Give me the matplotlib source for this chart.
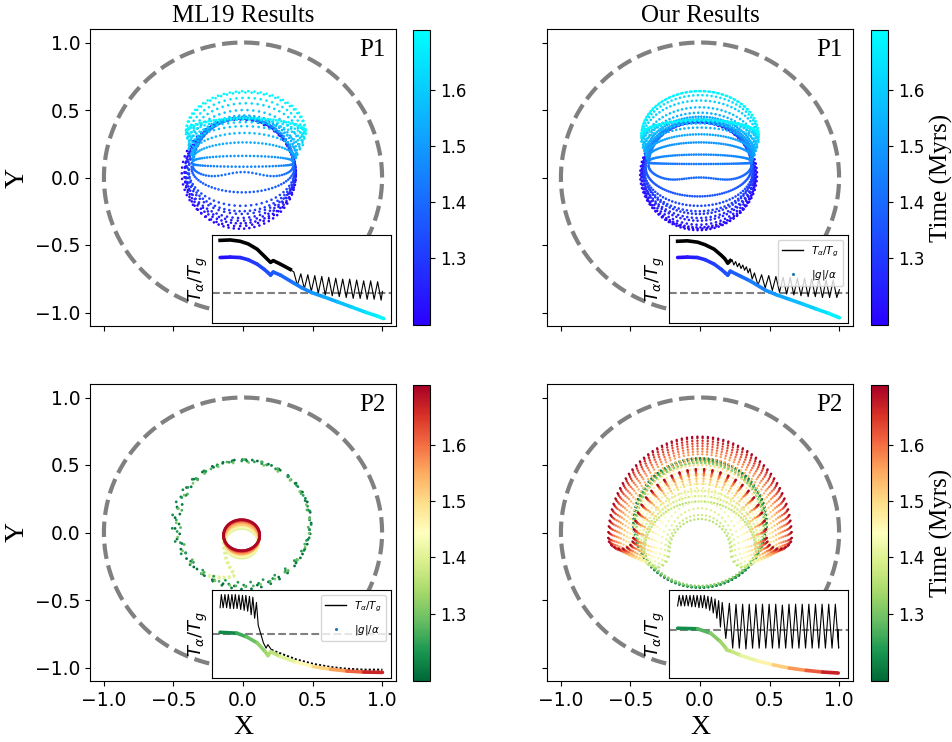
#!/usr/bin/env python3
import numpy as np
import matplotlib
matplotlib.use("Agg")
import matplotlib.pyplot as plt
from matplotlib.colors import LinearSegmentedColormap, Normalize
from matplotlib.cm import ScalarMappable
from matplotlib.collections import LineCollection
from matplotlib.lines import Line2D

SERIF = ["Liberation Serif", "DejaVu Serif"]

# --- colour scale (time, Myrs) ---
time_lo, time_hi = 1.18, 1.707
cbar_ticks = [1.3, 1.4, 1.5, 1.6]
axis_ticks = [-1.0, -0.5, 0.0, 0.5, 1.0]

# --- P1, ML19: ring snapshots (time, centre, x radius, upper / lower half height, wobble) ---
p1_ml_t = [1.19, 1.20, 1.22, 1.24, 1.26, 1.28, 1.30, 1.33, 1.37, 1.41, 1.45, 1.49, 1.53, 1.56, 1.59, 1.62, 1.65, 1.68, 1.70]
p1_ml_cx = [-0.02, -0.03, -0.02, -0.02, -0.02, -0.01, -0.01, -0.01, 0.0, 0.0, 0.0, 0.0, 0.01, 0.01, 0.01, 0.02, 0.02, 0.02, 0.02]
p1_ml_yc = [0.02, 0.03, 0.03, 0.03, 0.03, 0.04, 0.04, 0.05, 0.07, 0.08, 0.10, 0.12, 0.14, 0.16, 0.20, 0.24, 0.28, 0.32, 0.34]
p1_ml_rx = [0.40, 0.41, 0.40, 0.39, 0.39, 0.39, 0.38, 0.38, 0.37, 0.36, 0.36, 0.36, 0.37, 0.38, 0.40, 0.41, 0.42, 0.43, 0.43]
p1_ml_up = [0.42, 0.40, 0.41, 0.41, 0.41, 0.40, 0.40, 0.39, 0.37, 0.36, 0.34, 0.32, 0.31, 0.30, 0.30, 0.31, 0.31, 0.31, 0.30]
p1_ml_lo = [0.40, 0.39, 0.37, 0.35, 0.33, 0.31, 0.29, 0.26, 0.18, 0.10, 0.02, -0.04, -0.12, -0.17, -0.18, -0.17, -0.15, -0.12, -0.10]
p1_ml_wave = [0, 0, 0, 0, 0, 0, 0, 0, 0, 0.06, 0, 0, 0, 0, 0, 0, 0, 0, 0]
p1_ml_npts = [67, 59, 71, 53, 61, 57, 64, 60, 80, 80, 80, 80, 80, 66, 60, 60, 60, 60, 60]

# --- P1, our results ---
p1_our_t = [1.19, 1.20, 1.21, 1.23, 1.25, 1.27, 1.29, 1.31, 1.33, 1.36, 1.40, 1.43, 1.46, 1.49, 1.52, 1.55, 1.58, 1.61, 1.64, 1.67, 1.70]
p1_our_cx = [-0.01, -0.01, -0.01, -0.01, -0.01, -0.01, -0.01, -0.01, -0.01, -0.01, 0.0, 0.0, 0.0, 0.0, 0.0, 0.0, 0.0, 0.0, 0.0, 0.0, 0.0]
p1_our_yc = [0.02, 0.02, 0.02, 0.02, 0.03, 0.03, 0.04, 0.04, 0.05, 0.07, 0.09, 0.11, 0.12, 0.14, 0.16, 0.19, 0.22, 0.26, 0.29, 0.31, 0.32]
p1_our_rx = [0.41, 0.42, 0.41, 0.40, 0.40, 0.40, 0.39, 0.39, 0.39, 0.38, 0.37, 0.37, 0.37, 0.38, 0.39, 0.40, 0.41, 0.42, 0.42, 0.42, 0.42]
p1_our_up = [0.39, 0.40, 0.39, 0.39, 0.39, 0.39, 0.38, 0.38, 0.37, 0.35, 0.33, 0.31, 0.30, 0.29, 0.29, 0.29, 0.30, 0.31, 0.32, 0.33, 0.32]
p1_our_lo = [0.41, 0.40, 0.39, 0.37, 0.35, 0.33, 0.31, 0.29, 0.26, 0.21, 0.14, 0.01, -0.05, -0.12, -0.16, -0.18, -0.18, -0.16, -0.14, -0.12, -0.10]
p1_our_wave = [0, 0, 0, 0, 0, 0, 0, 0, 0, 0, 0.05, 0, 0, 0, 0, 0, 0, 0, 0, 0, 0]
p1_our_npts = [83, 77, 89, 71, 80, 74, 86, 79, 90, 130, 130, 130, 130, 130, 120, 80, 80, 80, 80, 80, 80]

# --- P2, ML19: wide early ring, tail, small late ring ---
p2_ml_ring_t = [1.19, 1.20, 1.22, 1.24, 1.27, 1.30]
p2_ml_ring_cx = [0.0, 0.01, -0.01, 0.0, 0.01, 0.0]
p2_ml_ring_cy = [0.07, 0.06, 0.07, 0.08, 0.07, 0.06]
p2_ml_ring_rx = [0.49, 0.47, 0.50, 0.48, 0.46, 0.48]
p2_ml_ring_ry = [0.47, 0.48, 0.46, 0.45, 0.47, 0.46]
p2_ml_ring_npts = [37, 41, 29, 33, 23, 27]
p2_ml_tail_t = 1.40
p2_ml_tail_x = [-0.14, -0.135, -0.12, -0.09, -0.06, -0.07, -0.12, -0.17, -0.25]
p2_ml_tail_y = [-0.03, -0.12, -0.20, -0.27, -0.31, -0.325, -0.335, -0.333, -0.32]
p2_ml_small_t = [1.40, 1.43, 1.46, 1.49, 1.52, 1.56, 1.60, 1.64, 1.67, 1.70]
p2_ml_small_cy = [-0.08, -0.07, -0.06, -0.055, -0.05, -0.04, -0.03, -0.025, -0.02, -0.02]
p2_ml_small_rx = [0.12, 0.12, 0.12, 0.12, 0.125, 0.125, 0.13, 0.13, 0.13, 0.13]
p2_ml_small_ry = [0.11, 0.11, 0.11, 0.11, 0.11, 0.115, 0.115, 0.115, 0.115, 0.115]

# --- P2, our results: early ring, then arches (outer / inner half widths and tops) ---
p2_our_ring_t = [1.19, 1.21, 1.23, 1.26, 1.29, 1.32]
p2_our_ring_cy = [0.07, 0.07, 0.065, 0.065, 0.06, 0.06]
p2_our_ring_r = [0.48, 0.475, 0.47, 0.47, 0.46, 0.455]
p2_our_arch_t = [1.36, 1.38, 1.40, 1.42, 1.44, 1.46, 1.48, 1.50, 1.52, 1.54, 1.56, 1.58, 1.60, 1.62, 1.64, 1.66, 1.68, 1.70]
p2_our_wo = [0.40, 0.41, 0.43, 0.45, 0.47, 0.49, 0.51, 0.53, 0.55, 0.57, 0.585, 0.60, 0.615, 0.63, 0.64, 0.65, 0.655, 0.66]
p2_our_ho = [0.23, 0.27, 0.31, 0.36, 0.40, 0.43, 0.47, 0.50, 0.53, 0.55, 0.58, 0.60, 0.62, 0.64, 0.66, 0.68, 0.70, 0.71]
p2_our_wi = [0.22, 0.23, 0.25, 0.28, 0.31, 0.33, 0.35, 0.37, 0.39, 0.41, 0.425, 0.44, 0.45, 0.46, 0.465, 0.47, 0.475, 0.48]
p2_our_hi = [0.10, 0.13, 0.18, 0.23, 0.27, 0.30, 0.33, 0.36, 0.38, 0.40, 0.42, 0.43, 0.44, 0.45, 0.455, 0.46, 0.465, 0.47]
p2_our_yb = [-0.14, -0.135, -0.13, -0.12, -0.115, -0.11, -0.105, -0.10, -0.09, -0.08, -0.075, -0.07, -0.065, -0.06, -0.055, -0.05, -0.045, -0.04]
p2_our_yf = [-0.26, -0.255, -0.245, -0.23, -0.22, -0.21, -0.20, -0.19, -0.18, -0.17, -0.16, -0.15, -0.145, -0.14, -0.135, -0.13, -0.125, -0.12]

# --- insets (axes fraction units): |g|/alpha curve, T_alpha/T_g line, dashed level ---
tl_g_x = [0.043, 0.10, 0.155, 0.20, 0.25, 0.29, 0.315, 0.325, 0.34, 0.38, 0.45, 0.50, 0.556, 0.62, 0.70, 0.78, 0.86, 0.92, 0.957]
tl_g_y = [0.745, 0.75, 0.745, 0.72, 0.67, 0.61, 0.565, 0.545, 0.58, 0.545, 0.46, 0.40, 0.345, 0.30, 0.24, 0.18, 0.12, 0.08, 0.05]
tl_band_x = [0.043, 0.10, 0.155, 0.20, 0.25, 0.29, 0.315, 0.325, 0.34, 0.38, 0.435]
tl_band_y = [0.94, 0.945, 0.93, 0.90, 0.84, 0.76, 0.71, 0.69, 0.71, 0.67, 0.61]
tl_peak_x = [0.455, 0.494, 0.533, 0.572, 0.611, 0.650, 0.689, 0.728, 0.767, 0.806, 0.845, 0.884, 0.923]
tl_peak_y = [0.58, 0.56, 0.55, 0.54, 0.53, 0.52, 0.51, 0.50, 0.50, 0.49, 0.48, 0.48, 0.47]
tl_trough_y = [0.43, 0.39, 0.36, 0.34, 0.32, 0.31, 0.30, 0.29, 0.28, 0.28, 0.27, 0.27, 0.26]
tl_end = (0.95, 0.36)
tl_level = 0.345

tr_g_x = [0.046, 0.10, 0.157, 0.20, 0.25, 0.29, 0.315, 0.326, 0.34, 0.40, 0.45, 0.54, 0.60, 0.67, 0.74, 0.82, 0.89, 0.95]
tr_g_y = [0.745, 0.75, 0.745, 0.72, 0.67, 0.61, 0.565, 0.545, 0.59, 0.53, 0.48, 0.37, 0.32, 0.27, 0.22, 0.16, 0.11, 0.06]
tr_band_x = [0.046, 0.10, 0.157, 0.20, 0.25, 0.29, 0.31, 0.326, 0.34]
tr_band_y = [0.93, 0.935, 0.92, 0.89, 0.84, 0.77, 0.73, 0.68, 0.71]
tr_peak_x = [0.35, 0.37, 0.39, 0.41, 0.43, 0.45, 0.475, 0.515, 0.555, 0.595, 0.635, 0.675, 0.715, 0.755, 0.795, 0.835, 0.875, 0.915]
tr_peak_y = [0.72, 0.70, 0.68, 0.66, 0.64, 0.62, 0.57, 0.55, 0.54, 0.53, 0.52, 0.52, 0.51, 0.51, 0.50, 0.50, 0.49, 0.49]
tr_trough_y = [0.66, 0.64, 0.62, 0.60, 0.57, 0.50, 0.43, 0.40, 0.37, 0.35, 0.33, 0.32, 0.31, 0.30, 0.30, 0.29, 0.29, 0.29]
tr_end = (0.95, 0.38)
tr_level = 0.34

bl_g_x = [0.043, 0.136, 0.19, 0.25, 0.295, 0.31, 0.326, 0.38, 0.47, 0.565, 0.66, 0.75, 0.845, 0.95]
bl_g_y = [0.52, 0.51, 0.47, 0.40, 0.30, 0.256, 0.30, 0.245, 0.18, 0.13, 0.10, 0.08, 0.068, 0.064]
bl_start = (0.043, 0.80)
bl_peak_x = [0.050, 0.070, 0.089, 0.109, 0.128, 0.148, 0.168, 0.187, 0.207, 0.226, 0.246]
bl_peak_y = [0.95, 0.95, 0.95, 0.95, 0.95, 0.945, 0.94, 0.94, 0.93, 0.92, 0.86]
bl_trough_y = [0.80, 0.80, 0.79, 0.79, 0.79, 0.78, 0.77, 0.76, 0.72, 0.68, 0.60]
bl_drop_x = [0.285, 0.30, 0.31, 0.33]
bl_drop_y = [0.40, 0.34, 0.38, 0.32]
bl_tail_x = [0.33, 0.38, 0.47, 0.565, 0.66, 0.75, 0.845, 0.95]
bl_tail_y = [0.32, 0.28, 0.21, 0.16, 0.125, 0.105, 0.095, 0.095]
bl_level = 0.50

br_g_x = [0.046, 0.157, 0.23, 0.285, 0.313, 0.32, 0.35, 0.40, 0.49, 0.58, 0.67, 0.764, 0.856, 0.943]
br_g_y = [0.566, 0.56, 0.51, 0.415, 0.347, 0.32, 0.30, 0.256, 0.196, 0.15, 0.113, 0.087, 0.068, 0.057]
br_start = (0.046, 0.82)
br_peak_x = [0.055, 0.075, 0.095, 0.115, 0.135, 0.155, 0.175, 0.195, 0.215, 0.235, 0.255, 0.275, 0.295,
             0.335, 0.372, 0.409, 0.446, 0.483, 0.520, 0.557, 0.594, 0.631, 0.668, 0.705, 0.742, 0.779, 0.816, 0.853, 0.890, 0.927]
br_peak_y = [0.94, 0.94, 0.94, 0.94, 0.94, 0.94, 0.94, 0.94, 0.93, 0.92, 0.90, 0.88, 0.86,
             0.85, 0.84, 0.84, 0.84, 0.84, 0.84, 0.84, 0.84, 0.83, 0.84, 0.84, 0.84, 0.84, 0.84, 0.84, 0.84, 0.84]
br_trough_y = [0.82, 0.82, 0.82, 0.81, 0.81, 0.80, 0.80, 0.79, 0.77, 0.74, 0.68, 0.58, 0.45,
               0.34, 0.34, 0.33, 0.34, 0.34, 0.34, 0.34, 0.34, 0.34, 0.34, 0.34, 0.34, 0.34, 0.34, 0.34, 0.34, 0.34]
br_end = (0.943, 0.55)
br_level = 0.547


# --- helpers ---
def loop_points(cx, yc, rx, up, lo, wave, n, phase):
    th = np.linspace(0, 2 * np.pi, n, endpoint=False) + phase
    s, c = np.sin(th), np.cos(th)
    y = np.where(s >= 0, yc + up * s, yc + lo * s + wave * np.abs(s) ** 8)
    return cx + rx * c, y


def arch_points(wo, ho, wi, hi, yb, yf, n_out=56, n_in=26):
    to = np.linspace(0, np.pi, n_out)
    ti = np.linspace(0, np.pi, n_in)
    xs = [wo * np.cos(to), wi * np.cos(ti)]
    ys = [yb + (ho - yb) * np.sin(to), yb + (hi - yb) * np.sin(ti)]
    ph = np.linspace(np.pi, 2 * np.pi, 10)[1:-1]
    for sign in (-1, 1):
        xm, hw = sign * (wo + wi) / 2, (wo - wi) / 2
        xs.append(xm + hw * np.cos(ph))
        ys.append(yb + (yb - yf) * np.sin(ph))
    return np.concatenate(xs), np.concatenate(ys)


def zigzag(start, peak_x, peak_y, trough_y, end=None):
    px = np.asarray(peak_x, float)
    step = np.diff(px, append=px[-1] + (px[-1] - px[-2]))
    x = np.empty(2 * len(px))
    y = np.empty(2 * len(px))
    x[0::2], x[1::2] = px, px + step / 2
    y[0::2], y[1::2] = peak_y, trough_y
    x = np.concatenate([[start[0]], x] + ([[end[0]]] if end else []))
    y = np.concatenate([[start[1]], y] + ([[end[1]]] if end else []))
    return x, y


def scatter_frames(ax, xs, ys, ts, cmap, norm, size=3.5):
    x, y, t = np.concatenate(xs), np.concatenate(ys), np.concatenate(ts)
    order = np.argsort(t, kind="stable")
    ax.scatter(x[order], y[order], c=t[order], cmap=cmap, norm=norm, s=size, linewidths=0, zorder=2)


def setup_main(ax, label_x, label_y, tag):
    th = np.linspace(0, 2 * np.pi, 400)
    ax.plot(np.cos(th), np.sin(th), linestyle="--", color="grey", lw=3, zorder=1)
    ax.set_xlim(-1.1, 1.1)
    ax.set_ylim(-1.1, 1.1)
    ax.set_xticks(axis_ticks)
    ax.set_yticks(axis_ticks)
    ax.tick_params(labelsize=13.5, labelbottom=label_x, labelleft=label_y)
    if label_x:
        ax.set_xlabel("X", family=SERIF, fontsize=20)
    if label_y:
        ax.set_ylabel("Y", family=SERIF, fontsize=20)
    ax.text(0.965, 0.965, tag, transform=ax.transAxes, ha="right", va="top", family=SERIF, fontsize=18)


def draw_inset(ax, cmap, g_x, g_y, level, black_parts, legend=False):
    ins = ax.inset_axes([0.40, 0.01, 0.585, 0.296])
    ins.set_xlim(0, 1)
    ins.set_ylim(0, 1)
    ins.tick_params(left=False, bottom=False, labelleft=False, labelbottom=False)
    ins.axhline(level, color="grey", ls="--", lw=1.5, zorder=1)
    for bx, by, lw, ls in black_parts:
        ins.plot(bx, by, color="k", lw=lw, ls=ls, zorder=2)
    pts = np.column_stack([g_x, g_y])
    segs = np.stack([pts[:-1], pts[1:]], axis=1)
    mids = (np.asarray(g_x[:-1]) + np.asarray(g_x[1:])) / 2
    inset_norm = Normalize(0.025, 0.969)
    lc = LineCollection(segs, colors=cmap(inset_norm(mids)), linewidths=2.6, capstyle="round", zorder=3)
    ins.add_collection(lc)
    ins.set_ylabel(r"$T_\alpha/T_g$", fontsize=13, labelpad=2)
    if legend:
        handles = [Line2D([], [], color="k", lw=1),
                   Line2D([], [], color="C0", marker=".", ls="", markersize=2.5)]
        ins.legend(handles, [r"$T_\alpha/T_g$", r"$|g|/\alpha$"], loc="upper right",
                   fontsize=7.5, labelspacing=0.9, framealpha=0.8)
    return ins


# --- figure ---
fig = plt.figure(figsize=(9.53, 7.42), dpi=100)
norm = Normalize(time_lo, time_hi)
cmap_blue = LinearSegmentedColormap.from_list("blue_cyan", ["#2a00ff", "#00ffff"])
cmap_rg = plt.get_cmap("RdYlGn_r")

W, H = 953, 742
def px_axes(x0, y0, x1, y1):
    return fig.add_axes([x0 / W, 1 - y1 / H, (x1 - x0) / W, (y1 - y0) / H])

ax_tl = px_axes(90, 29, 396, 326)
ax_tr = px_axes(547, 29, 853, 326)
ax_bl = px_axes(90, 384, 396, 681)
ax_br = px_axes(547, 384, 853, 681)
cax_tl = px_axes(413, 30, 430, 325)
cax_tr = px_axes(871, 30, 888, 325)
cax_bl = px_axes(413, 385, 430, 681)
cax_br = px_axes(871, 385, 888, 681)

setup_main(ax_tl, False, True, "P1")
setup_main(ax_tr, False, False, "P1")
setup_main(ax_bl, True, True, "P2")
setup_main(ax_br, True, False, "P2")
ax_tl.set_title("ML19 Results", family=SERIF, fontsize=18, pad=5)
ax_tr.set_title("Our Results", family=SERIF, fontsize=18, pad=5)

# P1 ML19
xs, ys, ts = [], [], []
for k, t in enumerate(p1_ml_t):
    x, y = loop_points(p1_ml_cx[k], p1_ml_yc[k], p1_ml_rx[k], p1_ml_up[k], p1_ml_lo[k],
                       p1_ml_wave[k], p1_ml_npts[k], 0.37 * k)
    xs.append(x); ys.append(y); ts.append(np.full(len(x), t))
scatter_frames(ax_tl, xs, ys, ts, cmap_blue, norm)

# P1 ours
xs, ys, ts = [], [], []
for k, t in enumerate(p1_our_t):
    x, y = loop_points(p1_our_cx[k], p1_our_yc[k], p1_our_rx[k], p1_our_up[k], p1_our_lo[k],
                       p1_our_wave[k], p1_our_npts[k], 0.29 * k)
    xs.append(x); ys.append(y); ts.append(np.full(len(x), t))
scatter_frames(ax_tr, xs, ys, ts, cmap_blue, norm)

# P2 ML19
xs, ys, ts = [], [], []
for k, t in enumerate(p2_ml_ring_t):
    x, y = loop_points(p2_ml_ring_cx[k], p2_ml_ring_cy[k], p2_ml_ring_rx[k], p2_ml_ring_ry[k],
                       p2_ml_ring_ry[k], 0, p2_ml_ring_npts[k], 0.53 * k)
    xs.append(x); ys.append(y); ts.append(np.full(len(x), t))
for k, t in enumerate(p2_ml_small_t):
    x, y = loop_points(-0.01, p2_ml_small_cy[k], p2_ml_small_rx[k], p2_ml_small_ry[k],
                       p2_ml_small_ry[k], 0, 70, 0.2 * k)
    xs.append(x); ys.append(y); ts.append(np.full(len(x), t))
ax_bl.plot(p2_ml_tail_x, p2_ml_tail_y, ls=(0, (0.8, 0.6)), lw=2.6,
           color=cmap_rg(norm(p2_ml_tail_t)), zorder=2)
scatter_frames(ax_bl, xs, ys, ts, cmap_rg, norm, size=4)

# P2 ours
xs, ys, ts = [], [], []
for k, t in enumerate(p2_our_ring_t):
    r = p2_our_ring_r[k]
    x, y = loop_points(0.0, p2_our_ring_cy[k], r, r, r, 0, 100, 0.31 * k)
    xs.append(x); ys.append(y); ts.append(np.full(len(x), t))
for k, t in enumerate(p2_our_arch_t):
    x, y = arch_points(p2_our_wo[k], p2_our_ho[k], p2_our_wi[k], p2_our_hi[k], p2_our_yb[k], p2_our_yf[k])
    xs.append(x); ys.append(y); ts.append(np.full(len(x), t))
scatter_frames(ax_br, xs, ys, ts, cmap_rg, norm, size=3)

# insets
tl_zx, tl_zy = zigzag((tl_band_x[-1], tl_band_y[-1]), tl_peak_x, tl_peak_y, tl_trough_y, tl_end)
draw_inset(ax_tl, cmap_blue, tl_g_x, tl_g_y, tl_level,
           [(tl_band_x, tl_band_y, 2.6, "-"), (tl_zx, tl_zy, 0.8, "-")])

tr_zx, tr_zy = zigzag((tr_band_x[-1], tr_band_y[-1]), tr_peak_x, tr_peak_y, tr_trough_y, tr_end)
draw_inset(ax_tr, cmap_blue, tr_g_x, tr_g_y, tr_level,
           [(tr_band_x, tr_band_y, 2.6, "-"), (tr_zx, tr_zy, 0.8, "-")], legend=True)

bl_zx, bl_zy = zigzag(bl_start, bl_peak_x, bl_peak_y, bl_trough_y)
bl_zx = np.concatenate([bl_zx, bl_drop_x])
bl_zy = np.concatenate([bl_zy, bl_drop_y])
draw_inset(ax_bl, cmap_rg, bl_g_x, bl_g_y, bl_level,
           [(bl_zx, bl_zy, 0.8, "-"), (bl_tail_x, bl_tail_y, 1.5, (0, (1, 1)))], legend=True)

br_zx, br_zy = zigzag(br_start, br_peak_x, br_peak_y, br_trough_y, br_end)
draw_inset(ax_br, cmap_rg, br_g_x, br_g_y, br_level, [(br_zx, br_zy, 0.8, "-")])

# colourbars
for cax, cm, lab in [(cax_tl, cmap_blue, False), (cax_tr, cmap_blue, True),
                     (cax_bl, cmap_rg, False), (cax_br, cmap_rg, True)]:
    cb = fig.colorbar(ScalarMappable(norm=norm, cmap=cm), cax=cax, ticks=cbar_ticks)
    cb.ax.tick_params(labelsize=12)
    if lab:
        cb.set_label("Time (Myrs)", family=SERIF, fontsize=18)

fig.savefig("out.png", dpi=100)
